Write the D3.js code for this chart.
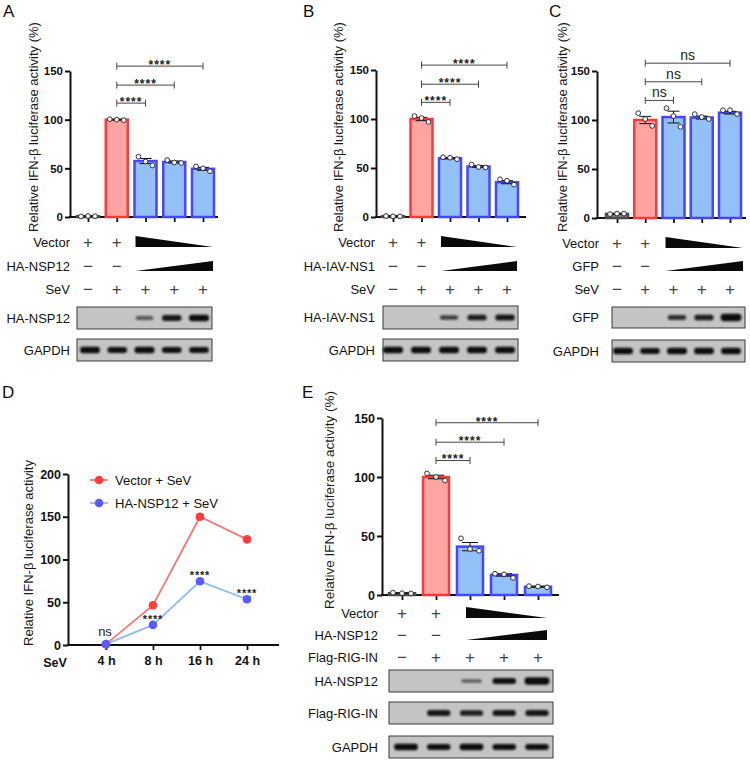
<!DOCTYPE html>
<html><head><meta charset="utf-8">
<script src="https://cdn.jsdelivr.net/npm/d3@7"></script>
<style>body{margin:0;background:#fff}svg{font-family:"Liberation Sans",Arial,sans-serif}</style>
</head><body><svg id="c" width="750" height="760"></svg>
<script>
// ---------- DATA ----------
const categories = ["L1","L2","L3","L4","L5"];
const yTicks = [0,50,100,150];
const laneStyle = ["gray","red","blue","blue","blue"];

// Panel A (HA-NSP12)
const aMeans = [0.8,100,57.5,56.5,49.5];
const aErr   = [0.2,0.4,2.6,1.0,1.5];
const aPts   = [[0.5,1.0,0.8],[100.5,100,99.5],[62,57,53],[58.5,56,55.5],[52,50,47]];
// Panel B (HA-IAV-NS1)
const bMeans = [0.8,100,60,51.5,35.5];
const bErr   = [0.1,1.7,0.6,0.9,1.6];
const bPts   = [[1.0,0.7,0.6],[103,101,97],[61,60.5,59],[53.5,51,50.5],[38.5,37,33]];
// Panel C (GFP)
const cMeans = [4.2,100,103,102.5,107.5];
const cErr   = [0.3,3.7,6.0,1.5,1.4];
const cPts   = [[4,4.5,4.5],[107,101,94],[112,104,93],[106,103,101],[110,110,106]];
// Panel E (HA-NSP12 + Flag-RIG-IN)
const eMeans = [1.5,100,41,17,7];
const eErr   = [0.2,1.5,3.5,1.0,0.3];
const ePts   = [[2,1.5,1.3],[103,100,97],[48,39,37.5],[18,17.5,14.5],[7.5,7.2,6.5]];

const sigStars = ["****","****","****"];
const sigNs = ["ns","ns","ns"];

// Condition rows
const vectorMarks  = ["+","+","down","down","down"];
const proteinMarks = ["−","−","up","up","up"];
const sevMarks     = ["−","+","+","+","+"];

// Western blot band intensities
const blotA_NSP12 = [0,0,0.35,0.85,1.0];
const blotA_GAPDH = [0.95,0.9,1.0,0.9,0.9];
const blotB_NS1   = [0,0,0.55,0.8,0.85];
const blotB_GAPDH = [1.0,0.95,0.95,0.95,0.95];
const blotC_GFP   = [0,0,0.65,0.8,1.25];
const blotC_GAPDH = [0.95,0.9,1.0,0.95,0.95];
const blotE_NSP12 = [0,0,0.3,0.9,1.25];
const blotE_RIG   = [0,0.85,0.8,0.85,0.85];
const blotE_GAPDH = [0.95,0.9,0.95,0.9,0.9];

// Panel D (time course)
const timeLabels = ["4 h","8 h","16 h","24 h"];
const dTicks = [0,50,100,150,200];
const vectorSeV = [1,46.5,150,123.5];
const vectorSeVErr = [0.3,1.2,2.5,1.5];
const nsp12SeV = [1,23.5,74.5,53.5];
const nsp12SeVErr = [0.3,1.2,1.8,2.5];
const dSig = ["ns","****","****","****"];
const dSeries = ["Vector + SeV","HA-NSP12 + SeV"];

// ---------- DRAWING ----------
const svg = d3.select("#c");
const FONT = '"Liberation Sans", Arial, sans-serif';
const defs = svg.append("defs");
defs.append("filter").attr("id","blur").attr("x","-30%").attr("y","-100%").attr("width","160%").attr("height","300%")
  .append("feGaussianBlur").attr("stdDeviation",0.8);

const STY = {
  red:  {fill:"#ffa3a3", stroke:"#ff3838"},
  blue: {fill:"#93c0f7", stroke:"#4646ff"},
  gray: {fill:"#8c8c8c", stroke:"#4a4a4a"}
};

function letter(t,x,y){
  svg.append("text").attr("x",x).attr("y",y).attr("font-size",17).attr("fill","#111").text(t);
}
function yLabel(t,cx,cy,fs){
  svg.append("text").attr("transform",`translate(${cx},${cy}) rotate(-90)`)
    .attr("text-anchor","middle").attr("dominant-baseline","central")
    .attr("font-size",fs).attr("fill","#1a1a1a").text(t);
}

function barPanel(cfg){
  const g = svg.append("g");
  const y = d3.scaleLinear().domain([0,150]).range([cfg.y0,cfg.yTop]);
  const x = d3.scalePoint().domain(categories).range([cfg.xFirst,cfg.xLast]);
  g.append("g").attr("transform",`translate(${cfg.axisX},0)`)
    .call(d3.axisLeft(y).tickValues(yTicks).tickSize(5).tickSizeOuter(0).tickPadding(2))
    .call(s=>{
      s.select(".domain").attr("stroke","#111").attr("stroke-width",2);
      s.selectAll(".tick line").attr("stroke","#111").attr("stroke-width",2);
      s.selectAll("text").attr("font-size",cfg.tickFont).attr("font-weight","bold").attr("font-family",FONT).attr("fill","#111");
    });
  g.append("g").attr("transform",`translate(0,${cfg.y0})`)
    .call(d3.axisBottom(x).tickSize(5).tickSizeOuter(0).tickFormat(""))
    .call(s=>{
      s.select(".domain").remove();
      s.selectAll(".tick line").attr("stroke","#111").attr("stroke-width",1.8);
    });
  g.append("line").attr("x1",cfg.axisX-1).attr("x2",cfg.xEnd).attr("y1",cfg.y0).attr("y2",cfg.y0)
    .attr("stroke","#111").attr("stroke-width",2);
  g.selectAll("rect.bar").data(categories).join("rect").attr("class","bar")
    .attr("x",c=>x(c)-cfg.bw/2).attr("width",cfg.bw)
    .attr("y",(c,i)=>y(cfg.means[i])).attr("height",(c,i)=>cfg.y0-y(cfg.means[i]))
    .attr("fill",(c,i)=>STY[laneStyle[i]].fill).attr("stroke",(c,i)=>STY[laneStyle[i]].stroke)
    .attr("stroke-width",2.5);
  categories.forEach((c,i)=>{
    const m=cfg.means[i], e=cfg.err[i], cx=x(c);
    g.append("line").attr("x1",cx).attr("x2",cx).attr("y1",y(m-e)).attr("y2",y(m+e)).attr("stroke","#111").attr("stroke-width",1);
    [m-e,m+e].forEach(v=>g.append("line").attr("x1",cx-cfg.cap).attr("x2",cx+cfg.cap).attr("y1",y(v)).attr("y2",y(v)).attr("stroke","#111").attr("stroke-width",1));
    cfg.pts[i].forEach((p,j)=>{
      g.append("circle").attr("cx",cx+cfg.jit[j]).attr("cy",y(p)).attr("r",2.4)
        .attr("fill","#f4f4f4").attr("stroke","#222").attr("stroke-width",0.9);
    });
  });
  cfg.levels.forEach((lv,k)=>{
    const x1=x(categories[1]), x2=x(categories[k+2]), yy=y(lv);
    g.append("line").attr("x1",x1).attr("x2",x2).attr("y1",yy).attr("y2",yy).attr("stroke","#444").attr("stroke-width",1);
    [x1,x2].forEach(xx=>g.append("line").attr("x1",xx).attr("x2",xx).attr("y1",yy-3.5).attr("y2",yy+3.5).attr("stroke","#444").attr("stroke-width",1));
    const t=cfg.sig[k];
    const isStar = t.indexOf("*")>=0;
    g.append("text").attr("x",(x1+x2)/2).attr("y",isStar?yy+3:yy-3).attr("text-anchor","middle")
      .attr("font-size",isStar?12:14).attr("font-weight",isStar?"bold":"normal")
      .attr("letter-spacing",isStar?1:0).attr("fill","#222").text(t);
  });
  return x;
}

function markRow(cfg, label, marks, rowY, wl, wr){
  const x = d3.scalePoint().domain(categories).range([cfg.xFirst,cfg.xLast]);
  svg.append("text").attr("x",cfg.labelX).attr("y",rowY+4.6).attr("text-anchor","end")
    .attr("font-size",13).attr("fill","#111").text(label);
  const lanes = categories.map((c,i)=>({c,m:marks[i]}));
  lanes.filter(d=>d.m==="+"||d.m==="−").forEach(d=>{
    svg.append("text").attr("x",x(d.c)).attr("y",rowY+6).attr("text-anchor","middle")
      .attr("font-size",17).attr("fill","#444").text(d.m);
  });
  const wedge = lanes.filter(d=>d.m==="down"||d.m==="up");
  if(wedge.length){
    const xa = x(wedge[0].c)+wl, xb = x(wedge[wedge.length-1].c)+wr;
    const pts = wedge[0].m==="down"
      ? [[xa,rowY-6],[xb,rowY+5],[xa,rowY+5]]
      : [[xa,rowY+5],[xb,rowY-5],[xb,rowY+5]];
    svg.append("polygon").attr("points",pts.map(p=>p.join(",")).join(" ")).attr("fill","#0a0a0a");
  }
}

function blot(cfg, label, vals, y1, y2, labelY){
  const x = d3.scalePoint().domain(categories).range([cfg.bandFirst,cfg.bandLast]);
  svg.append("text").attr("x",cfg.labelX).attr("y",(labelY||(y1+y2)/2)+4.6).attr("text-anchor","end")
    .attr("font-size",13).attr("fill","#111").text(label);
  svg.append("rect").attr("x",cfg.blotX1).attr("y",y1).attr("width",cfg.blotX2-cfg.blotX1).attr("height",y2-y1)
    .attr("fill","#c4c4c4").attr("stroke","#3a3a3a").attr("stroke-width",1);
  const cy=(y1+y2)/2;
  categories.forEach((c,i)=>{
    const v=vals[i]; if(v<=0) return;
    const w=cfg.bandW*(0.8+0.2*Math.min(v,1.2));
    const h=2.5+4*v;
    svg.append("rect").attr("x",x(c)-w/2).attr("y",cy-h/2).attr("width",w).attr("height",h)
      .attr("rx",h/2.2).attr("fill","#111").attr("opacity",Math.min(1,0.35+0.7*v)).attr("filter","url(#blur)");
  });
}

// ---- Panel A ----
const cfgA = {axisX:70,y0:217,yTop:71,xFirst:88,xLast:203,xEnd:218,bw:22,cap:6,jit:[-7,0,7],tickFont:11.5,
  means:aMeans,err:aErr,pts:aPts,levels:[117,135.5,155],sig:sigStars,labelX:70,
  bandFirst:90,bandLast:199,blotX1:77,blotX2:212,bandW:20};
letter("A",3,17);
yLabel("Relative IFN-β luciferase activity (%)",33,127,13);
barPanel(cfgA);
markRow(cfgA,"Vector",vectorMarks,242,-10,10);
markRow(cfgA,"HA-NSP12",proteinMarks,266,-10,10);
markRow(cfgA,"SeV",sevMarks,289,-10,10);
blot(cfgA,"HA-NSP12",blotA_NSP12,307,329);
blot(cfgA,"GAPDH",blotA_GAPDH,339,361);

// ---- Panel B ----
const cfgB = {axisX:376,y0:217,yTop:70,xFirst:393,xLast:507,xEnd:526,bw:22,cap:6,jit:[-7,0,7],tickFont:11.5,
  means:bMeans,err:bErr,pts:bPts,levels:[117,135.5,155],sig:sigStars,labelX:375,
  bandFirst:393,bandLast:505,blotX1:383,blotX2:518,bandW:20};
letter("B",303,17);
yLabel("Relative IFN-β luciferase activity (%)",338,127,13);
barPanel(cfgB);
markRow(cfgB,"Vector",vectorMarks,242,-9,10);
markRow(cfgB,"HA-IAV-NS1",proteinMarks,266,-9,10);
markRow(cfgB,"SeV",sevMarks,289,-9,10);
blot(cfgB,"HA-IAV-NS1",blotB_NS1,306,329);
blot(cfgB,"GAPDH",blotB_GAPDH,339,361);

// ---- Panel C ----
const cfgC = {axisX:597,y0:218,yTop:71,xFirst:617,xLast:730,xEnd:746,bw:22,cap:6,jit:[-7,0,7],tickFont:11.5,
  means:cMeans,err:cErr,pts:cPts,levels:[120,139,158],sig:sigNs,labelX:599,
  bandFirst:623,bandLast:731,blotX1:612,blotX2:745,bandW:20};
letter("C",549,17);
yLabel("Relative IFN-β luciferase activity (%)",562,127,13);
barPanel(cfgC);
markRow(cfgC,"Vector",vectorMarks,243,-8,13);
markRow(cfgC,"GFP",proteinMarks,266,-8,13);
markRow(cfgC,"SeV",sevMarks,289,-8,13);
blot(cfgC,"GFP",blotC_GFP,307,328);
blot(cfgC,"GAPDH",blotC_GAPDH,340,362);

// ---- Panel E ----
const cfgE = {axisX:382,y0:595,yTop:418,xFirst:402,xLast:538,xEnd:559,bw:26,cap:8,jit:[-9,0,9],tickFont:12.5,
  means:eMeans,err:eErr,pts:ePts,levels:[114,129.5,146],sig:sigStars,labelX:378,
  bandFirst:406,bandLast:537,blotX1:389,blotX2:553,bandW:24};
letter("E",302,398);
yLabel("Relative IFN-β luciferase activity (%)",329,500,13.5);
barPanel(cfgE);
markRow(cfgE,"Vector",vectorMarks,613,-4,9);
markRow(cfgE,"HA-NSP12",proteinMarks,635,-4,9);
markRow(cfgE,"Flag-RIG-IN",sevMarks,657,-4,9);
blot(cfgE,"HA-NSP12",blotE_NSP12,670,692);
blot(cfgE,"Flag-RIG-IN",blotE_RIG,702,724);
blot(cfgE,"GAPDH",blotE_GAPDH,736,758);

// ---- Panel D ----
(function(){
  const g = svg.append("g");
  const y = d3.scaleLinear().domain([0,200]).range([645,474]);
  const x = d3.scalePoint().domain(timeLabels).range([106,247]);
  letter("D",2,398);
  yLabel("Relative IFN-β luciferase activity",28,553,13);
  g.append("g").attr("transform","translate(68,0)")
    .call(d3.axisLeft(y).tickValues(dTicks).tickSize(5).tickSizeOuter(0).tickPadding(2))
    .call(s=>{
      s.select(".domain").attr("stroke","#111").attr("stroke-width",2);
      s.selectAll(".tick line").attr("stroke","#111").attr("stroke-width",2);
      s.selectAll("text").attr("font-size",12.5).attr("font-weight","bold").attr("font-family",FONT).attr("fill","#111");
    });
  g.append("g").attr("transform","translate(0,645)")
    .call(d3.axisBottom(x).tickSize(5).tickSizeOuter(0).tickPadding(6))
    .call(s=>{
      s.select(".domain").remove();
      s.selectAll(".tick line").attr("stroke","#111").attr("stroke-width",1.8);
      s.selectAll("text").attr("font-size",12.5).attr("font-weight","bold").attr("font-family",FONT).attr("fill","#111");
    });
  g.append("line").attr("x1",67).attr("x2",279).attr("y1",645).attr("y2",645).attr("stroke","#111").attr("stroke-width",2);
  g.append("text").attr("x",55).attr("y",666.5).attr("text-anchor","middle").attr("font-size",12.5).attr("font-weight","bold").attr("fill","#111").text("SeV");

  const series = [
    {vals:vectorSeV, err:vectorSeVErr, line:"#f77676", dot:"#ff3d3d"},
    {vals:nsp12SeV, err:nsp12SeVErr, line:"#8fbaf4", dot:"#5a5aff"}
  ];
  const line = d3.line().x((d,i)=>x(timeLabels[i])).y(d=>y(d));
  series.forEach(s=>{
    g.append("path").attr("d",line(s.vals)).attr("fill","none").attr("stroke",s.line).attr("stroke-width",1.8);
  });
  series.forEach(s=>{
    s.vals.forEach((v,i)=>{
      const cx=x(timeLabels[i]);
      const e=s.err[i];
      g.append("line").attr("x1",cx).attr("x2",cx).attr("y1",y(v-e)).attr("y2",y(v+e)).attr("stroke",s.dot).attr("stroke-width",1);
      [v-e,v+e].forEach(vv=>g.append("line").attr("x1",cx-4).attr("x2",cx+4).attr("y1",y(vv)).attr("y2",y(vv)).attr("stroke",s.dot).attr("stroke-width",1));
      g.append("circle").attr("cx",cx).attr("cy",y(v)).attr("r",4.3).attr("fill",s.dot);
    });
  });
  dSig.forEach((t,i)=>{
    const cx=x(timeLabels[i]);
    if(t==="ns"){
      g.append("text").attr("x",cx-1).attr("y",y(nsp12SeV[i])-8).attr("text-anchor","middle").attr("font-size",13).attr("fill","#222").text(t);
    } else {
      g.append("text").attr("x",cx).attr("y",y(nsp12SeV[i])-2).attr("text-anchor","middle").attr("font-size",11).attr("font-weight","bold").attr("letter-spacing",0.8).attr("fill","#222").text(t);
    }
  });
  series.forEach((s,i)=>{
    const ly = 480 + i*23;
    g.append("line").attr("x1",90).attr("x2",108).attr("y1",ly).attr("y2",ly).attr("stroke",s.line).attr("stroke-width",1.8);
    g.append("circle").attr("cx",99).attr("cy",ly).attr("r",4.3).attr("fill",s.dot);
    g.append("text").attr("x",115).attr("y",ly+4.6).attr("font-size",13).attr("fill","#111").text(dSeries[i]);
  });
})();
</script></body></html>
